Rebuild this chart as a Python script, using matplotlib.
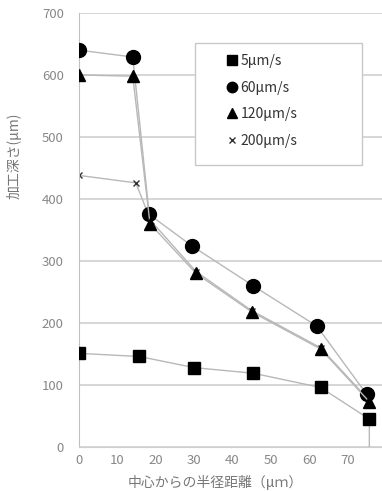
import matplotlib
matplotlib.use("Agg")
import matplotlib.pyplot as plt
from matplotlib.lines import Line2D
from matplotlib.patches import Rectangle

plt.rcParams['font.family'] = ['Noto Sans CJK JP', 'DejaVu Sans']

# data
x_5 = [0, 15.7, 30, 45.4, 63, 75.7, 75.7]
y_5 = [151, 146, 128, 119, 96, 45, 0]
x_60 = [0, 14, 18.3, 29.5, 45.4, 62, 75]
y_60 = [640, 629, 375, 324, 260, 195, 85]
x_120 = [0, 14, 18.5, 30.5, 45, 63, 75.7]
y_120 = [600, 598, 360, 280, 218, 158, 73]
x_200 = [0, 14.8, 18.7, 30.5, 45, 63, 75.7]
y_200 = [438, 426, 365, 283, 220, 160, 75]

labels = ['5\u03bcm/s', '60\u03bcm/s', '120\u03bcm/s', '200\u03bcm/s']
yticks = [0, 100, 200, 300, 400, 500, 600, 700]
xticks = [0, 10, 20, 30, 40, 50, 60, 70]

fig = plt.figure(figsize=(3.82, 4.91), dpi=100)
ax = fig.add_axes([0.207, 0.0896, 0.793, 0.884])

lc = '#b8b8b8'
ax.plot(x_5, y_5, color=lc, lw=1.0, marker='s', ms=9, mfc='black', mec='black',
        markevery=list(range(6)), zorder=3)
ax.plot(x_60, y_60, color=lc, lw=1.0, marker='o', ms=10, mfc='black', mec='black', zorder=3)
ax.plot(x_120, y_120, color=lc, lw=1.0, marker='^', ms=8, mfc='black', mec='black', zorder=3)
ax.plot(x_200, y_200, color=lc, lw=1.0, marker='x', ms=4, mec='#333333', mew=1.0, zorder=2)

ax.set_xlim(0, 79)
ax.set_ylim(0, 700)
ax.set_yticks(yticks)
ax.set_xticks(xticks)
ax.grid(axis='y', color='#d0d0d0', lw=1.2)
ax.set_axisbelow(True)
for s in ['right', 'top']:
    ax.spines[s].set_visible(False)
ax.spines['left'].set_color('#c0c0c0')
ax.spines['bottom'].set_color('#d0d0d0')
ax.tick_params(axis='y', length=0, labelsize=9.5, colors='#888888', pad=11)
ax.tick_params(axis='x', length=0, labelsize=9.5, colors='#888888', pad=5)

ax.set_ylabel('加工深さ(\u03bcm)', fontsize=10, color='#777777')
ax.yaxis.set_label_coords(-0.19, 0.67)
ax.set_xlabel('中心からの半径距離（\u03bcｍ）', fontsize=10, color='#777777')
ax.xaxis.set_label_coords(0.45, -0.064)

# legend box
box = Rectangle((0.383, 0.649), 0.551, 0.281, transform=ax.transAxes,
                facecolor='white', edgecolor='#c8c8c8', lw=1.0, zorder=4)
ax.add_patch(box)
h = [Line2D([], [], ls='none', marker='s', ms=7, mfc='black', mec='black'),
     Line2D([], [], ls='none', marker='o', ms=7.5, mfc='black', mec='black'),
     Line2D([], [], ls='none', marker='^', ms=7, mfc='black', mec='black'),
     Line2D([], [], ls='none', marker='x', ms=4, mec='#333333', mew=1.0)]
leg = ax.legend(h, labels, loc='upper left', bbox_to_anchor=(0.49, 0.906),
                frameon=False, fontsize=10,
                labelspacing=0.92, handlelength=0.7, handletextpad=0.25,
                borderpad=0, borderaxespad=0)
leg.set_zorder(5)
for t in leg.get_texts():
    t.set_color('#333333')

fig.savefig('out.png', dpi=100)
